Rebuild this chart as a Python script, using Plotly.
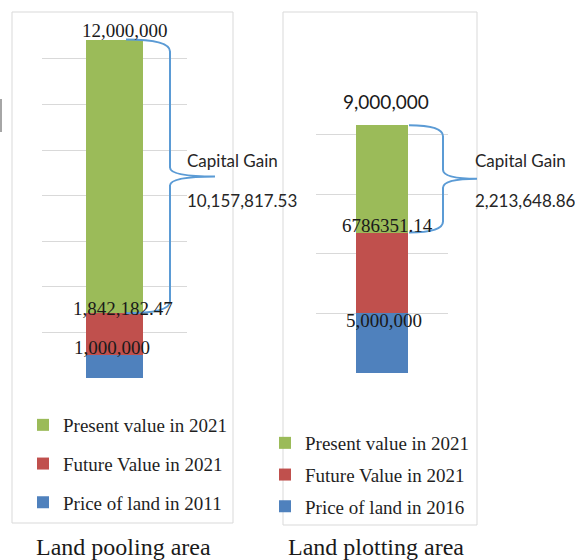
import plotly.graph_objects as go

# ---------------- data ----------------
areas = ["Land pooling area", "Land plotting area"]
series_names_left = ["Price of land in 2011", "Future Value in 2021", "Present value in 2021"]
series_names_right = ["Price of land in 2016", "Future Value in 2021", "Present value in 2021"]
price_of_land = [1000000, 5000000]
future_value = [1842182.47, 6786351.14]
present_value = [12000000, 9000000]
label_price = ["1,000,000", "5,000,000"]
label_future = ["1,842,182.47", "6786351.14"]
label_present = ["12,000,000", "9,000,000"]
left_ticks = [0, 2000000, 4000000, 6000000, 8000000, 10000000, 12000000, 14000000]
right_ticks = [0, 5000000, 10000000, 15000000, 20000000, 25000000]

# ---------------- styles ----------------
colors = ["#4f81bd", "#c0504d", "#9bbb59"]
legend_ranks = [3, 2, 1]
W, H = 575, 560
SERIF = "Liberation Serif"
SANS = "Lato"
left_range = 16000000
right_range = 25000000
left_dom_y = [1 - 378 / H, 1 - 13.2 / H]
right_dom_y = [1 - 373 / H, 1 - 75 / H]
left_dom_x = [42 / W, 187 / W]
right_dom_x = [316 / W, 448 / W]

fig = go.Figure()

panels = [
    dict(i=0, xa="x", ya="y", legend="legend", names=series_names_left),
    dict(i=1, xa="x2", ya="y2", legend="legend2", names=series_names_right),
]
series = [price_of_land, future_value, present_value]
for p in panels:
    i = p["i"]
    for k, vals in enumerate(series):
        fig.add_trace(go.Bar(
            x=[areas[i]], y=[vals[i]], name=p["names"][k],
            marker=dict(color=colors[k], line=dict(width=0)),
            xaxis=p["xa"], yaxis=p["ya"], legend=p["legend"],
            legendgroup=f"{p['legend']}_{k}", legendrank=legend_ranks[k], hoverinfo="skip",
        ))

axis_common = dict(showticklabels=False, ticks="", zeroline=False, showline=False)
fig.update_layout(
    width=W, height=H, margin=dict(l=0, r=0, t=0, b=0),
    paper_bgcolor="white", plot_bgcolor="white",
    barmode="stack", bargap=0.607,
    xaxis=dict(domain=left_dom_x, anchor="y", showgrid=False, **axis_common),
    yaxis=dict(domain=left_dom_y, anchor="x", range=[0, left_range], tickvals=left_ticks,
               showgrid=True, gridcolor="#d9d9d9", gridwidth=1, **axis_common),
    xaxis2=dict(domain=right_dom_x, anchor="y2", showgrid=False, **axis_common),
    yaxis2=dict(domain=right_dom_y, anchor="x2", range=[0, right_range], tickvals=right_ticks,
                showgrid=True, gridcolor="#d9d9d9", gridwidth=1, **axis_common),
    showlegend=True,
    legend=dict(x=23 / W, y=1 - 406 / H, xanchor="left", yanchor="top",
                font=dict(family=SERIF, size=19, color="#1f1f1f"),
                traceorder="grouped", tracegroupgap=11, bgcolor="rgba(0,0,0,0)"),
    legend2=dict(x=265 / W, y=1 - 424 / H, xanchor="left", yanchor="top",
                 font=dict(family=SERIF, size=19, color="#1f1f1f"),
                 traceorder="grouped", tracegroupgap=4, bgcolor="rgba(0,0,0,0)"),
)

# panel borders and stray mark
shapes = [
    dict(type="rect", xref="paper", yref="paper", x0=12 / W, x1=233 / W, y0=1 - 523 / H, y1=1 - 12 / H,
         line=dict(color="#d9d9d9", width=1), layer="below"),
    dict(type="rect", xref="paper", yref="paper", x0=283 / W, x1=477 / W, y0=1 - 525 / H, y1=1 - 12 / H,
         line=dict(color="#d9d9d9", width=1), layer="below"),
    dict(type="line", xref="paper", yref="paper", x0=1 / W, x1=1 / W, y0=1 - 99 / H, y1=1 - 132 / H,
         line=dict(color="#a6a6a6", width=2)),
]

# braces from red top to green top
brace_geom = [
    dict(yref="y", x0=126, x1=170, x2=215, pxu=(left_dom_y[1] - left_dom_y[0]) * H / left_range, r=12, rt=9),
    dict(yref="y2", x0=409, x1=443, x2=477, pxu=(right_dom_y[1] - right_dom_y[0]) * H / right_range, r=11, rt=9),
]
for i, g in enumerate(brace_geom):
    yb = price_of_land[i] + future_value[i]
    yt = yb + present_value[i]
    ym = (yt + yb) / 2
    r = g["r"] / g["pxu"]
    rt = g["rt"] / g["pxu"]
    X0, X1, X2 = g["x0"] / W, g["x1"] / W, g["x2"] / W
    path = (f"M {X0},{yt} Q {X1},{yt} {X1},{yt - r} L {X1},{ym + rt} "
            f"Q {X1},{ym} {X2},{ym} Q {X1},{ym} {X1},{ym - rt} L {X1},{yb + r} "
            f"Q {X1},{yb} {X0},{yb}")
    shapes.append(dict(type="path", xref="paper", yref=g["yref"], path=path,
                       line=dict(color="#5b9bd5", width=2)))
fig.update_layout(shapes=shapes)

# bar value labels
annotations = []
label_sets = [label_price, label_future, label_present]
shifts = [  # (xshift, yshift) per panel per segment
    [(-3, 8), (8, 5), (10, 9)],
    [(2, -7), (5, 7), (4, 24)],
]
label_fonts = [[SERIF, SERIF, SERIF], [SERIF, SERIF, SANS]]
for i, p in enumerate(panels):
    cum = 0
    for k, vals in enumerate(series):
        cum += vals[i]
        annotations.append(dict(
            x=areas[i], y=cum, xref=p["xa"], yref=p["ya"], text=label_sets[k][i],
            showarrow=False, xanchor="center", yanchor="middle",
            xshift=shifts[i][k][0], yshift=shifts[i][k][1],
            font=dict(family=label_fonts[i][k], size=19, color="#1a1a1a")))

# capital gain notes
cap_x = [185, 473]
for i in range(2):
    gain = present_value[i] - future_value[i]
    annotations.append(dict(x=cap_x[i] / W, y=1 - 160 / H, xref="paper", yref="paper",
                            text="Capital Gain", showarrow=False, xanchor="left", yanchor="middle",
                            font=dict(family=SANS, size=17, color="#262626")))
    annotations.append(dict(x=cap_x[i] / W, y=1 - 200 / H, xref="paper", yref="paper",
                            text=f"{gain:,.2f}", showarrow=False, xanchor="left", yanchor="middle",
                            font=dict(family=SANS, size=17, color="#262626")))

# captions
cap_cx = [123, 376]
for i in range(2):
    annotations.append(dict(x=cap_cx[i] / W, y=1 - 547 / H, xref="paper", yref="paper",
                            text=areas[i], showarrow=False, xanchor="center", yanchor="middle",
                            font=dict(family=SERIF, size=24, color="#1a1a1a")))
fig.update_layout(annotations=annotations)

fig.write_html("out.html", config={"displayModeBar": False},
               post_script="document.body.style.margin='0px';document.body.style.overflow='hidden';")
